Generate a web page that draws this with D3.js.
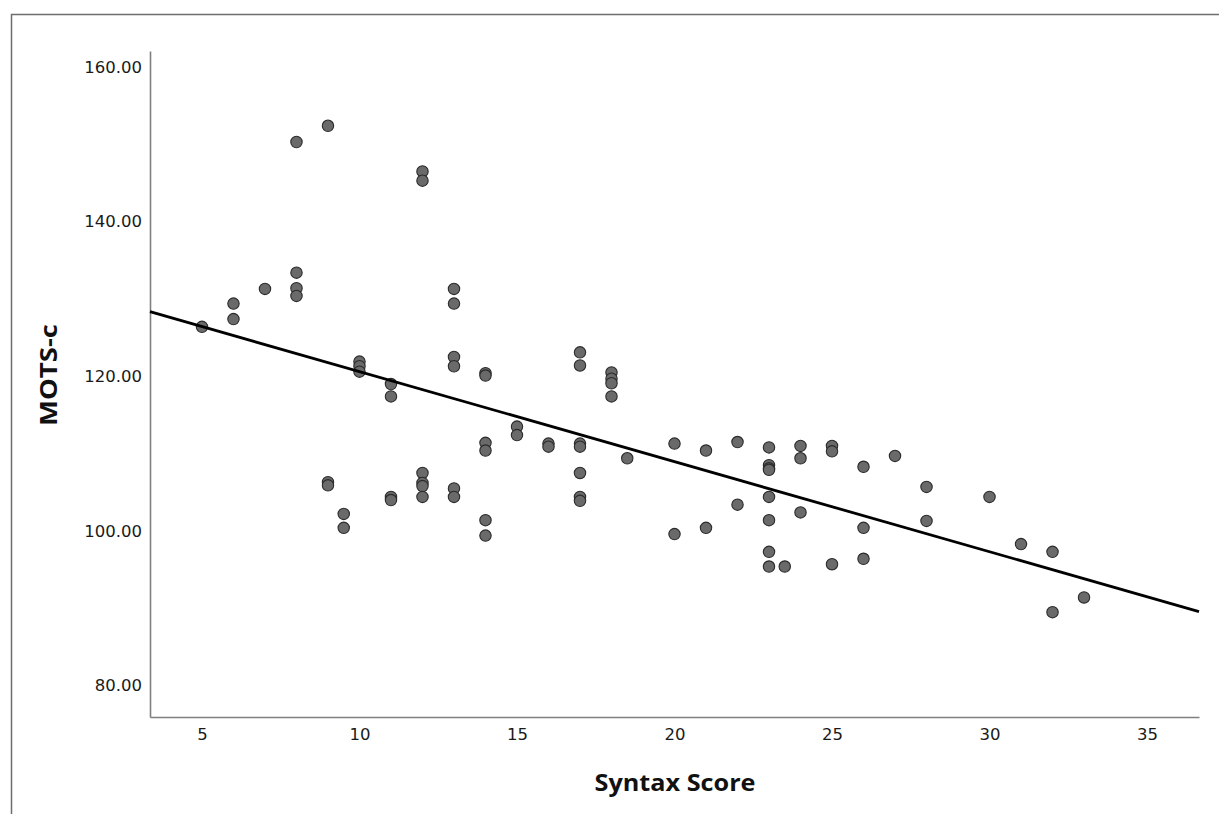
<!DOCTYPE html>
<html>
<head>
<meta charset="utf-8">
<script src="https://cdn.jsdelivr.net/npm/d3@7"></script>
<style>
  body { margin: 0; background: #fff; }
  svg { display: block; }
</style>
</head>
<body>
<div id="chart"></div>
<script>
// data
const syntaxScore = [
  5, 6, 6, 7, 8, 8, 8, 8, 9, 9, 9, 9.5, 9.5,
  10, 10, 10, 11, 11, 11, 11,
  12, 12, 12, 12, 12, 12,
  13, 13, 13, 13, 13, 13,
  14, 14, 14, 14, 14, 14,
  15, 15, 16, 16,
  17, 17, 17, 17, 17, 17, 17,
  18, 18, 18, 18, 18.5,
  20, 20, 21, 21, 22, 22,
  23, 23, 23, 23, 23, 23, 23, 23, 23.5,
  24, 24, 24, 25, 25, 25, 26, 26, 26,
  27, 28, 28, 30, 31, 32, 32, 33
];
const motsC = [
  126.4, 129.4, 127.4, 131.3, 150.3, 133.4, 131.4, 130.4, 152.4, 106.3, 105.9, 102.2, 100.4,
  121.9, 121.3, 120.6, 119.0, 117.4, 104.4, 104.0,
  146.5, 145.3, 107.5, 106.2, 105.8, 104.4,
  131.3, 129.4, 122.5, 121.3, 105.5, 104.4,
  120.4, 120.1, 111.4, 110.4, 101.4, 99.4,
  113.5, 112.4, 111.3, 110.9,
  123.1, 121.4, 111.3, 110.9, 107.5, 104.4, 103.9,
  120.5, 119.7, 119.1, 117.4, 109.4,
  111.3, 99.6, 110.4, 100.4, 111.5, 103.4,
  110.8, 108.5, 108.1, 107.9, 104.4, 101.4, 97.3, 95.4, 95.4,
  111.0, 109.4, 102.4, 111.0, 110.3, 95.7, 108.3, 100.4, 96.4,
  109.7, 105.7, 101.3, 104.4, 98.3, 97.3, 89.5, 91.4
];
const xTicks = [5, 10, 15, 20, 25, 30, 35];
const yTicks = [80, 100, 120, 140, 160];
// fit line (intercept, slope)
const fitIntercept = 132.26;
const fitSlope = -1.165;

const width = 1219, height = 814;
const xDomain = [3.35, 36.65], yDomain = [75.94, 162.07];

const svg = d3.select('#chart')
  .append('svg')
  .attr('width', width)
  .attr('height', height);

// outer frame (runs off the right and bottom of the picture)
svg.append('rect')
  .attr('x', 11.5)
  .attr('y', 14.5)
  .attr('width', 1400)
  .attr('height', 1000)
  .attr('fill', 'none')
  .attr('stroke', '#6e6e6e')
  .attr('stroke-width', 1.5);

const x = d3.scaleLinear().domain(xDomain).range([150, 1199]);
const y = d3.scaleLinear().domain(yDomain).range([717, 51]);

// axes
const xAxis = svg.append('g')
  .attr('transform', 'translate(0,717)')
  .call(d3.axisBottom(x).tickValues(xTicks).tickFormat(d3.format('d'))
    .tickSizeInner(0).tickSizeOuter(0).tickPadding(11));

const yAxis = svg.append('g')
  .attr('transform', 'translate(150,0)')
  .call(d3.axisLeft(y).tickValues(yTicks).tickFormat(d3.format('.2f'))
    .tickSizeInner(0).tickSizeOuter(0).tickPadding(8));

[xAxis, yAxis].forEach(function (g) {
  g.select('.domain').attr('stroke', '#808080').attr('stroke-width', 1.6);
  g.selectAll('text')
    .attr('font-family', 'DejaVu Sans, sans-serif')
    .attr('font-size', '16.5px')
    .attr('fill', '#1a1a1a');
});

// points
const pts = syntaxScore.map(function (d, i) { return { sx: d, mc: motsC[i] }; });
svg.append('g')
  .selectAll('circle')
  .data(pts)
  .enter()
  .append('circle')
  .attr('cx', function (d) { return x(d.sx); })
  .attr('cy', function (d) { return y(d.mc); })
  .attr('r', 5.7)
  .attr('fill', '#6a6a6a')
  .attr('stroke', '#2b2b2b')
  .attr('stroke-width', 1.1);

// fit line across the x range
const line = d3.line()
  .x(function (d) { return x(d); })
  .y(function (d) { return y(fitIntercept + fitSlope * d); });
svg.append('path')
  .datum(xDomain)
  .attr('d', line)
  .attr('fill', 'none')
  .attr('stroke', '#000')
  .attr('stroke-width', 2.8);

// axis titles
svg.append('text')
  .attr('x', 675)
  .attr('y', 791)
  .attr('text-anchor', 'middle')
  .attr('font-family', 'Open Sans, sans-serif')
  .attr('font-weight', 'bold')
  .attr('font-size', '24px')
  .attr('textLength', 161)
  .attr('lengthAdjust', 'spacingAndGlyphs')
  .attr('fill', '#111')
  .text('Syntax Score');

svg.append('text')
  .attr('transform', 'translate(57,375) rotate(-90)')
  .attr('text-anchor', 'middle')
  .attr('font-family', 'Open Sans, sans-serif')
  .attr('font-weight', 'bold')
  .attr('font-size', '24px')
  .attr('textLength', 102)
  .attr('lengthAdjust', 'spacingAndGlyphs')
  .attr('fill', '#111')
  .text('MOTS-c');
</script>
</body>
</html>
